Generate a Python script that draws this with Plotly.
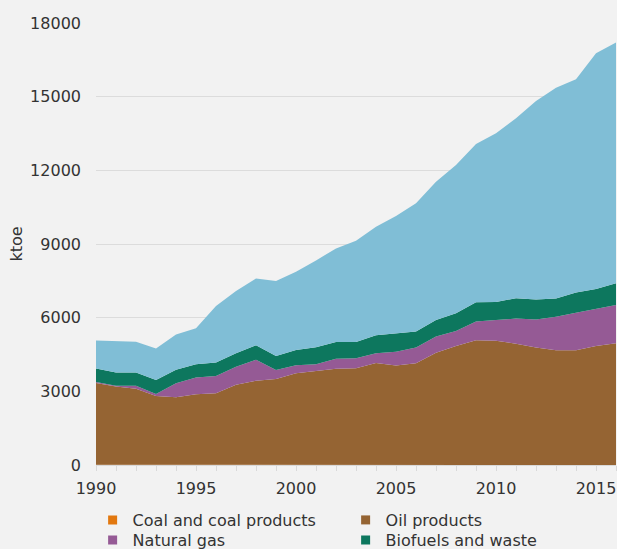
import plotly.graph_objects as go

years = list(range(1990, 2017))

coal = [10, 8, 6, 5, 4, 3, 3, 2, 2, 2, 2, 1, 1, 1, 1, 1, 1, 1, 1, 1, 1, 1, 1, 1, 1, 1, 1]
oil = [3330, 3190, 3100, 2810, 2760, 2880, 2920, 3270, 3430, 3500, 3730, 3840, 3920, 3940,
       4150, 4050, 4140, 4570, 4850, 5080, 5060, 4940, 4780, 4670, 4670, 4850, 4960]
gas = [40, 30, 120, 80, 570, 680, 700, 730, 850, 370, 330, 260, 410, 405,
       400, 565, 640, 660, 610, 760, 845, 1020, 1140, 1370, 1530, 1500, 1555]
bio = [550, 540, 540, 570, 540, 540, 550, 550, 590, 570, 620, 690, 680, 665,
       730, 735, 660, 675, 720, 785, 735, 830, 815, 735, 820, 820, 885]
elec = [1140, 1260, 1250, 1280, 1440, 1465, 2305, 2535, 2720, 3050, 3190, 3540, 3810, 4125,
        4425, 4790, 5215, 5630, 6035, 6445, 6865, 7330, 8085, 8590, 8685, 9595, 9800]

# (name, values, colour, legend id or None)
series = [
    ("Coal and coal products", coal, "#e2780f", "legend"),
    ("Oil products", oil, "#956433", "legend"),
    ("Natural gas", gas, "#955a95", "legend2"),
    ("Biofuels and waste", bio, "#0d775e", "legend2"),
    ("Electricity", elec, "#80bed6", None),
]

tick_vals = years
tick_text = [str(y) if y % 5 == 0 else "" for y in years]
y_ticks = [0, 3000, 6000, 9000, 12000, 15000, 18000]

fig = go.Figure()
for name, vals, color, leg in series:
    fig.add_trace(go.Scatter(
        x=years, y=vals, name=name, stackgroup="one",
        mode="lines", line=dict(width=0, color=color),
        fillcolor=color, showlegend=False, hoverinfo="x+y+name",
    ))
for name, vals, color, leg in series:
    if leg:
        fig.add_trace(go.Scatter(
            x=[None], y=[None], name=name, mode="markers",
            marker=dict(symbol="square", size=9, color=color),
            showlegend=True, legend=leg,
        ))

font_family = "DejaVu Sans"
leg_common = dict(
    orientation="h", x=-0.0065, xanchor="left", yanchor="top",
    entrywidth=208, bgcolor="rgba(0,0,0,0)", font=dict(size=16),
    itemclick=False, tracegroupgap=0, traceorder="normal",
)
fig.update_layout(
    width=617, height=549,
    margin=dict(l=96, r=1, t=23, b=84, autoexpand=False),
    paper_bgcolor="#f2f2f2", plot_bgcolor="#f2f2f2",
    font=dict(family=font_family, size=16, color="#333333"),
    showlegend=True,
    legend=dict(y=-0.086, **leg_common),
    legend2=dict(y=-0.1313, **leg_common),
    xaxis=dict(
        range=[1990, 2016], tickvals=tick_vals, ticktext=tick_text,
        showgrid=False, zeroline=False, showline=True, linecolor="#d9d9d9",
        ticks="outside", ticklen=5, tickcolor="#d9d9d9", tickangle=0,
        tickfont=dict(size=16), ticklabelstandoff=4,
    ),
    yaxis=dict(
        range=[0, 18000], tickvals=y_ticks, ticktext=[str(v) for v in y_ticks],
        showgrid=True, gridcolor="#dcdcdc", gridwidth=1, zeroline=False,
        ticks="", ticklabelstandoff=14,
        title=dict(text="ktoe", standoff=3, font=dict(size=16)),
        tickfont=dict(size=16),
    ),
)

fig.write_html("out.html", post_script="document.body.style.margin='0';",
               config={"displayModeBar": False})
